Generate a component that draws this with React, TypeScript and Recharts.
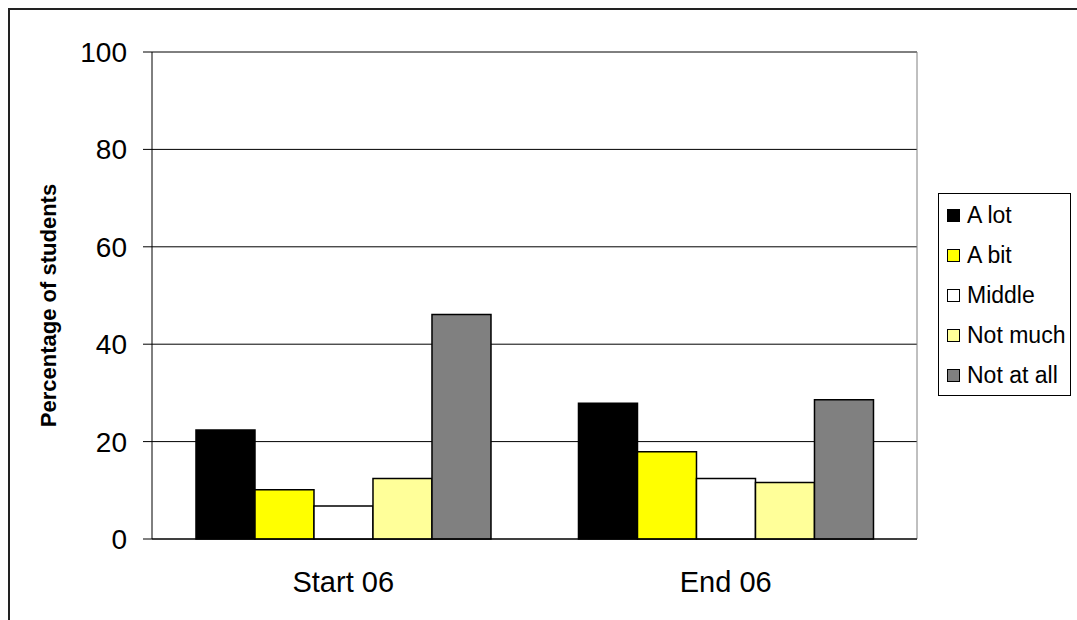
import { Bar, BarChart, CartesianGrid, Legend, ReferenceLine, XAxis, YAxis } from 'recharts';

const periods = ['Start 06', 'End 06'];
const aLot = [22.4, 27.9];
const aBit = [10.1, 17.9];
const middle = [6.8, 12.4];
const notMuch = [12.4, 11.6];
const notAtAll = [46.1, 28.6];
const yTicks = [0, 20, 40, 60, 80, 100];

const series = [
  { key: 'aLot', name: 'A lot', color: '#000000' },
  { key: 'aBit', name: 'A bit', color: '#FFFF00' },
  { key: 'middle', name: 'Middle', color: '#FFFFFF' },
  { key: 'notMuch', name: 'Not much', color: '#FFFF99' },
  { key: 'notAtAll', name: 'Not at all', color: '#808080' },
];

const data = periods.map((period, i) => ({
  period,
  aLot: aLot[i],
  aBit: aBit[i],
  middle: middle[i],
  notMuch: notMuch[i],
  notAtAll: notAtAll[i],
}));

const font = '"Liberation Sans", Arial, sans-serif';

const LegendBox = () => (
  <div
    style={{
      boxSizing: 'border-box',
      width: 133,
      height: 203,
      border: '1px solid #000',
      background: '#fff',
      paddingTop: 1,
      fontFamily: font,
      fontSize: 23,
      color: '#000',
    }}
  >
    {series.map((s) => (
      <div key={s.key} style={{ display: 'flex', alignItems: 'center', height: 40 }}>
        <span
          style={{
            display: 'inline-block',
            boxSizing: 'border-box',
            width: 13,
            height: 13,
            marginLeft: 8,
            marginRight: 7,
            background: s.color,
            border: '1px solid #000',
          }}
        />
        <span style={{ whiteSpace: 'nowrap' }}>{s.name}</span>
      </div>
    ))}
  </div>
);

const YLabel = ({ viewBox }: { viewBox?: { x: number; y: number; width: number; height: number } }) => {
  if (!viewBox) return null;
  const x = viewBox.x + 38;
  const y = viewBox.y + viewBox.height / 2 + 10;
  return (
    <text
      x={x}
      y={y}
      transform={`rotate(-90, ${x}, ${y})`}
      textAnchor="middle"
      dominantBaseline="central"
      fontFamily={font}
      fontSize={22}
      fontWeight="bold"
      fill="#000"
    >
      Percentage of students
    </text>
  );
};

export default function App() {
  return (
    <div
      style={{
        position: 'fixed',
        left: 8,
        top: 8,
        right: -20,
        bottom: -20,
        overflow: 'hidden',
        borderTop: '2px solid #222',
        borderLeft: '2px solid #222',
        background: '#fff',
      }}
    >
      <BarChart
        width={1067}
        height={609}
        data={data}
        margin={{ top: 42, right: 160, left: 0, bottom: 0 }}
        barCategoryGap="11.5%"
        barGap={0}
        style={{ fontFamily: font }}
      >
        <CartesianGrid vertical={false} stroke="#000" />
        <CartesianGrid
          horizontal={false}
          stroke="#808080"
          verticalCoordinatesGenerator={({ offset }: any) => [offset.left + offset.width]}
        />
        <ReferenceLine y={100} stroke="#808080" />
        <XAxis
          xAxisId="edge"
          type="number"
          domain={[0, 2]}
          ticks={[0, 1, 2]}
          tick={false}
          tickSize={9}
          axisLine={false}
          stroke="#000"
          height={0}
        />
        <XAxis
          dataKey="period"
          tickLine={false}
          tickSize={0}
          tickMargin={32}
          axisLine={{ stroke: '#000' }}
          tick={{ fill: '#000', fontSize: 29 }}
          height={80}
        />
        <YAxis
          domain={[0, 100]}
          ticks={yTicks}
          interval={0}
          width={142}
          tickSize={9}
          tickMargin={16}
          stroke="#000"
          tick={{ fill: '#000', fontSize: 28 }}
          label={<YLabel />}
        />
        {series.map((s) => (
          <Bar
            key={s.key}
            dataKey={s.key}
            name={s.name}
            fill={s.color}
            stroke="#000"
            strokeWidth={1.5}
            isAnimationActive={false}
          />
        ))}
        <Legend
          layout="vertical"
          align="center"
          verticalAlign="middle"
          wrapperStyle={{ left: 928, top: 183, width: 133, height: 203 }}
          content={<LegendBox />}
        />
      </BarChart>
    </div>
  );
}
